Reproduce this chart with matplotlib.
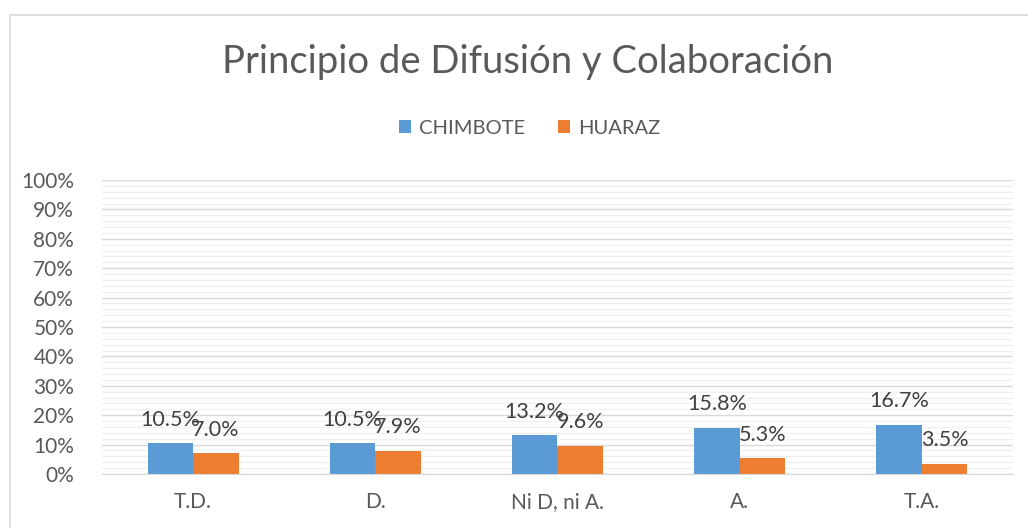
import matplotlib.pyplot as plt
import numpy as np
from matplotlib.patches import Rectangle
from matplotlib.ticker import MultipleLocator, PercentFormatter

categories = ['T.D.', 'D.', 'Ni D, ni A.', 'A.', 'T.A.']
chimbote = [10.5, 10.5, 13.2, 15.8, 16.7]
huaraz = [7.0, 7.9, 9.6, 5.3, 3.5]

blue = '#5B9BD5'
orange = '#ED7D31'
text_col = '#595959'

plt.rcParams['font.family'] = ['Lato', 'DejaVu Sans']

fig = plt.figure(figsize=(10.28, 5.28), dpi=100)
fig.patches.append(Rectangle((10 / 1028, -0.1), 1.2, 1 - 15 / 528 + 0.1,
                             transform=fig.transFigure, fill=False,
                             edgecolor='#D9D9D9', linewidth=1.2))
ax = fig.add_axes([0.0992, 0.1023, 0.886, 0.5568])

x = np.arange(len(categories))
w = 0.25
b1 = ax.bar(x - w / 2, chimbote, w, color=blue, label='CHIMBOTE', zorder=3)
b2 = ax.bar(x + w / 2, huaraz, w, color=orange, label='HUARAZ', zorder=3)

for bars, vals in ((b1, chimbote), (b2, huaraz)):
    for rect, v in zip(bars, vals):
        ax.annotate(f'{v:.1f}%', (rect.get_x() + rect.get_width() / 2, v),
                    xytext=(0, 17), textcoords='offset points',
                    ha='center', va='center', fontsize=15.5, color='#404040')

ax.set_xlim(-0.5, len(categories) - 0.5)
ax.set_ylim(0, 100)
ax.yaxis.set_major_locator(MultipleLocator(10))
ax.yaxis.set_minor_locator(MultipleLocator(2))
ax.yaxis.set_major_formatter(PercentFormatter(decimals=0))
ax.grid(axis='y', which='major', color='#D9D9D9', linewidth=1, zorder=0)
ax.grid(axis='y', which='minor', color='#F0F0F0', linewidth=1, zorder=0)
ax.set_axisbelow(True)

for s in ('top', 'right', 'left'):
    ax.spines[s].set_visible(False)
ax.spines['bottom'].set_color('#D9D9D9')
ax.spines['bottom'].set_zorder(4)

ax.set_xticks(x)
ax.set_xticklabels(categories)
ax.tick_params(axis='x', length=0, pad=13, labelsize=15, labelcolor=text_col)
ax.tick_params(axis='y', which='both', length=0, pad=20, labelsize=15,
               labelcolor=text_col)

fig.text(0.513, 0.882, 'Principio de Difusión y Colaboración', ha='center',
         va='center', fontsize=27.5, color=text_col)
fig.legend(loc='center', bbox_to_anchor=(0.515, 0.757), ncol=2, frameon=False,
           fontsize=14.5, labelcolor=text_col, handlelength=0.6,
           handleheight=0.6, handletextpad=0.4, columnspacing=1.6)

fig.savefig('out.png', dpi=100)
